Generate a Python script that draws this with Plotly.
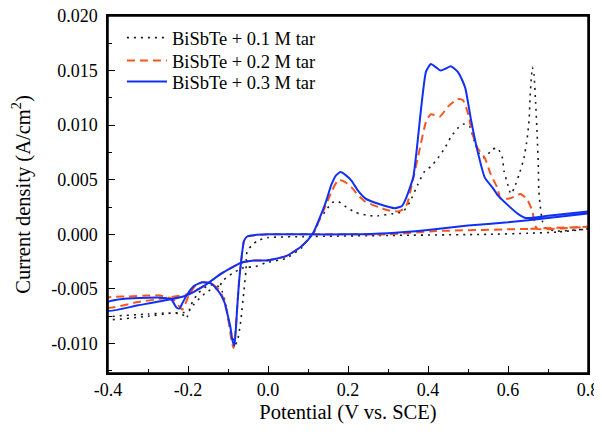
import plotly.graph_objects as go

# Cyclic voltammograms, BiSbTe bath with tartaric acid (tar)
# each curve: sweep from 0.8 V down to -0.4 V, then back up to 0.8 V

# 0.1 M tar (dotted black)
v_01 = [0.80, 0.72, 0.65, 0.55, 0.30, 0.10, 0.00, -0.027, -0.040, -0.052, -0.055, -0.060,
        -0.068, -0.076, -0.082, -0.088, -0.097, -0.105, -0.115, -0.130, -0.150, -0.175,
        -0.193, -0.204, -0.215, -0.250, -0.300, -0.400,
        -0.400, -0.300, -0.240, -0.200, -0.187, -0.175, -0.157, -0.140, -0.124, -0.112,
        -0.090, -0.065, -0.050, -0.035, -0.005, 0.045, 0.085, 0.100, 0.117, 0.130, 0.145,
        0.160, 0.176, 0.196, 0.219, 0.256, 0.276, 0.313, 0.338, 0.355, 0.375, 0.392, 0.407,
        0.425, 0.442, 0.457, 0.474, 0.489, 0.504, 0.516, 0.528, 0.541, 0.561, 0.574, 0.578,
        0.586, 0.590, 0.599, 0.607, 0.615, 0.628, 0.640, 0.648, 0.653, 0.655, 0.658, 0.661,
        0.665, 0.669, 0.673, 0.676, 0.677, 0.680, 0.686, 0.694, 0.720, 0.800]
j_01 = [0.0005, 0.0002, 0.0001, 0.0000, -0.0001, -0.0002, -0.0003, -0.0006, -0.0010, -0.0015,
        -0.0033, -0.0051, -0.0079, -0.0097, -0.0101, -0.0095, -0.0083, -0.0065, -0.0052,
        -0.0046, -0.0047, -0.0054, -0.0065, -0.0077, -0.0073, -0.0072, -0.0073, -0.0076,
        -0.0078, -0.0075, -0.0072, -0.0071, -0.0065, -0.0060, -0.0054, -0.0050, -0.0049,
        -0.0042, -0.0036, -0.0031, -0.0030, -0.0030, -0.0026, -0.0022, -0.0012, -0.0004,
        0.0003, 0.0014, 0.0022, 0.0029, 0.0030, 0.0025, 0.0020, 0.0017, 0.0017, 0.0019,
        0.0021, 0.0030, 0.0046, 0.0058, 0.0062, 0.0070, 0.0079, 0.0089, 0.0097, 0.0101,
        0.0099, 0.0085, 0.0074, 0.0070, 0.0078, 0.0079, 0.0077, 0.0070, 0.0058, 0.0046,
        0.0037, 0.0042, 0.0055, 0.0070, 0.0088, 0.0106, 0.0124, 0.0142, 0.0153, 0.0146,
        0.0121, 0.0091, 0.0060, 0.0040, 0.0028, 0.0012, 0.0006, 0.0003, 0.0005]

# 0.2 M tar (dashed orange)
v_02 = [0.80, 0.65, 0.42, 0.30, 0.20, 0.10, 0.00, -0.040, -0.052, -0.060, -0.067, -0.072,
        -0.077, -0.081, -0.086, -0.091, -0.096, -0.103, -0.110, -0.122, -0.142, -0.166,
        -0.184, -0.198, -0.207, -0.214, -0.222, -0.240, -0.270, -0.303, -0.350, -0.400,
        -0.400, -0.325, -0.250, -0.204, -0.159, -0.117, -0.067, -0.035, -0.005, 0.045,
        0.080, 0.100, 0.114, 0.127, 0.145, 0.160, 0.176, 0.192, 0.209, 0.225, 0.243, 0.276,
        0.300, 0.325, 0.338, 0.348, 0.360, 0.378, 0.395, 0.407, 0.420, 0.430, 0.450, 0.474,
        0.487, 0.499, 0.512, 0.524, 0.542, 0.557, 0.574, 0.581, 0.606, 0.631, 0.648, 0.661,
        0.668, 0.673, 0.800]
j_02 = [0.0007, 0.0005, 0.0003, 0.0000, 0.0000, 0.0000, 0.0000, -0.0001, -0.0002, -0.0006,
        -0.0024, -0.0042, -0.0067, -0.0088, -0.0104, -0.0098, -0.0085, -0.0070, -0.0060,
        -0.0051, -0.0045, -0.0044, -0.0048, -0.0056, -0.0064, -0.0069, -0.0066, -0.0059,
        -0.0056, -0.0056, -0.0057, -0.0058,
        -0.0067, -0.0062, -0.0058, -0.0055, -0.0047, -0.0036, -0.0026, -0.0024, -0.0024,
        -0.0020, -0.0012, -0.0005, 0.0002, 0.0012, 0.0027, 0.0040, 0.0050, 0.0048, 0.0043,
        0.0036, 0.0030, 0.0025, 0.0022, 0.0021, 0.0023, 0.0028, 0.0046, 0.0076, 0.0103,
        0.0110, 0.0109, 0.0108, 0.0117, 0.0124, 0.0123, 0.0112, 0.0091, 0.0079, 0.0070,
        0.0055, 0.0042, 0.0033, 0.0033, 0.0037, 0.0032, 0.0021, 0.0008, 0.0005, 0.0007]

# 0.3 M tar (solid blue)
v_03 = [0.80, 0.70, 0.60, 0.50, 0.40, 0.30, 0.20, 0.10, 0.00, -0.040, -0.052, -0.060, -0.067,
        -0.072, -0.077, -0.080, -0.084, -0.089, -0.094, -0.102, -0.109, -0.122, -0.142,
        -0.166, -0.184, -0.200, -0.214, -0.221, -0.229, -0.241, -0.266, -0.300, -0.358,
        -0.400,
        -0.400, -0.325, -0.250, -0.204, -0.159, -0.117, -0.067, -0.035, -0.005, 0.045,
        0.080, 0.100, 0.114, 0.127, 0.145, 0.158, 0.170, 0.181, 0.195, 0.209, 0.225, 0.243,
        0.276, 0.318, 0.335, 0.345, 0.363, 0.372, 0.380, 0.395, 0.407, 0.420, 0.432, 0.445,
        0.457, 0.474, 0.487, 0.494, 0.507, 0.524, 0.542, 0.561, 0.574, 0.599, 0.624, 0.644,
        0.700, 0.800]
j_03 = [0.0019, 0.0015, 0.0011, 0.0008, 0.0004, 0.0001, 0.0000, 0.0000, 0.0000, -0.0001,
        -0.0002, -0.0006, -0.0024, -0.0042, -0.0067, -0.0085, -0.0102, -0.0097, -0.0085,
        -0.0072, -0.0062, -0.0053, -0.0045, -0.0044, -0.0047, -0.0054, -0.0063, -0.0068,
        -0.0067, -0.0060, -0.0058, -0.0058, -0.0059, -0.0062,
        -0.0070, -0.0065, -0.0060, -0.0056, -0.0047, -0.0036, -0.0026, -0.0024, -0.0024,
        -0.0020, -0.0012, -0.0005, 0.0002, 0.0013, 0.0030, 0.0045, 0.0054, 0.0057, 0.0054,
        0.0049, 0.0040, 0.0033, 0.0028, 0.0024, 0.0026, 0.0033, 0.0052, 0.0078, 0.0106,
        0.0149, 0.0156, 0.0153, 0.0150, 0.0152, 0.0154, 0.0149, 0.0140, 0.0133, 0.0106,
        0.0076, 0.0052, 0.0043, 0.0036, 0.0027, 0.0019, 0.0015, 0.0017, 0.0021]

names = ["BiSbTe + 0.1 M tar", "BiSbTe + 0.2 M tar", "BiSbTe + 0.3 M tar"]

x_ticks = [-0.4, -0.2, 0.0, 0.2, 0.4, 0.6, 0.8]
x_labels = ["-0.4", "-0.2", "0.0", "0.2", "0.4", "0.6", "0.8"]
x_minor = [-0.3, -0.1, 0.1, 0.3, 0.5, 0.7]
y_ticks = [-0.010, -0.005, 0.000, 0.005, 0.010, 0.015, 0.020]
y_labels = ["-0.010", "-0.005", "0.000", "0.005", "0.010", "0.015", "0.020"]
y_minor = [-0.0125, -0.0075, -0.0025, 0.0025, 0.0075, 0.0125, 0.0175]

FONT = "Liberation Serif"

fig = go.Figure()
fig.add_trace(go.Scatter(x=v_01, y=j_01, mode="lines", name=names[0], legend="legend",
                         line=dict(color="#1a1a1a", width=1.6, dash="2px,5px",
                                   shape="spline", smoothing=0.5)))
fig.add_trace(go.Scatter(x=v_02, y=j_02, mode="lines", name=names[1], legend="legend2",
                         line=dict(color="#f5561e", width=2, dash="8px,5px",
                                   shape="spline", smoothing=0.5)))
fig.add_trace(go.Scatter(x=v_03, y=j_03, mode="lines", name=names[2], legend="legend3",
                         line=dict(color="#1030f5", width=2,
                                   shape="spline", smoothing=0.5)))

axis_common = dict(
    showline=True, linecolor="black", linewidth=1.5, mirror=True,
    showgrid=False, zeroline=False, automargin=False,
    ticks="inside", ticklen=7, tickwidth=1.3, tickcolor="black",
    ticklabeloverflow="allow",
    tickfont=dict(family=FONT, size=18, color="black"),
)

fig.update_xaxes(
    **axis_common,
    range=[-0.4, 0.8],
    tickmode="array", tickvals=x_ticks, ticktext=x_labels,
    minor=dict(tickmode="array", tickvals=x_minor, ticks="inside", ticklen=4,
               tickwidth=1.2, tickcolor="black"),
    title=dict(text="Potential (V vs. SCE)", font=dict(family=FONT, size=20.5, color="black"),
               standoff=5),
)
fig.update_yaxes(
    **axis_common,
    range=[-0.0127, 0.020],
    tickmode="array", tickvals=y_ticks, ticktext=y_labels,
    ticklabelstandoff=5,
    minor=dict(tickmode="array", tickvals=y_minor, ticks="inside", ticklen=4,
               tickwidth=1.2, tickcolor="black"),
    title=dict(text="Current density (A/cm<sup>2</sup>)",
               font=dict(family=FONT, size=20.5, color="black"), standoff=33),
)

# plot frame (box round the axes)
fig.add_shape(type="rect", xref="paper", yref="paper", x0=0, x1=1, y0=0, y1=1,
              line=dict(color="black", width=1.5), layer="above")

# one legend per entry so the rows sit as tight as in the original
leg_common = dict(x=0.029, xanchor="left", yanchor="middle",
                  bgcolor="rgba(0,0,0,0)", borderwidth=0,
                  font=dict(family=FONT, size=18.5, color="black"), itemwidth=40)

# page body adds an 8 px offset, so the figure is shifted back by that much
fig.update_layout(
    width=602, height=434,
    margin=dict(l=100, r=22, t=8, b=69, autoexpand=False),
    paper_bgcolor="white", plot_bgcolor="white",
    font=dict(family=FONT, color="black"),
    showlegend=True,
    legend=dict(y=0.938, **leg_common),
    legend2=dict(y=0.874, **leg_common),
    legend3=dict(y=0.815, **leg_common),
)

fig.write_html("out.html")
